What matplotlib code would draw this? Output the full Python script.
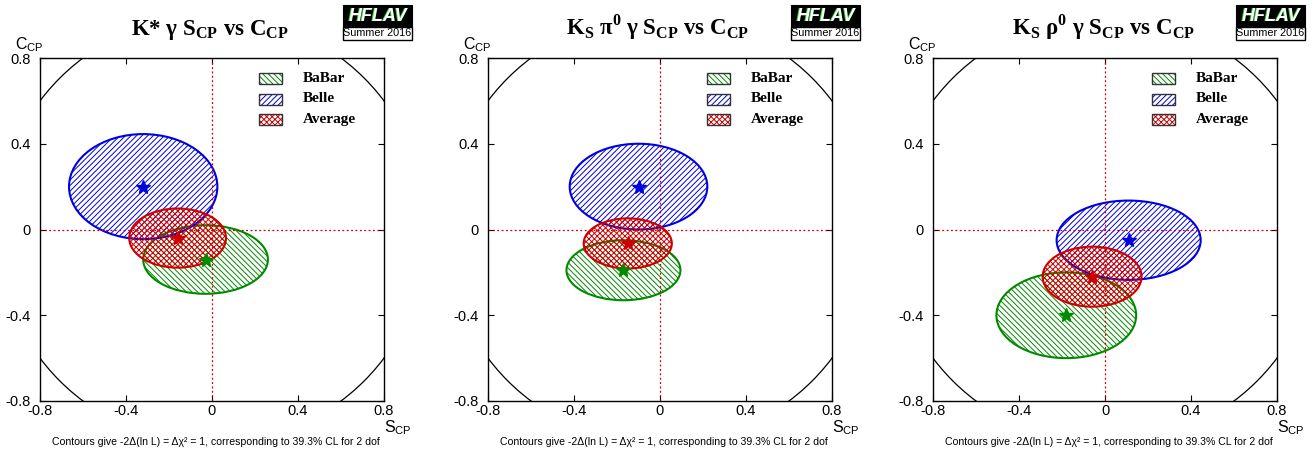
import matplotlib
matplotlib.use("Agg")
import matplotlib.pyplot as plt
from matplotlib.patches import Ellipse, Rectangle, Circle
import numpy as np

# ---------------- data ----------------
titles = [r"K* γ S$_\mathbf{CP}$ vs C$_\mathbf{CP}$",
          r"K$_\mathbf{S}$ π$^\mathbf{0}$ γ S$_\mathbf{CP}$ vs C$_\mathbf{CP}$",
          r"K$_\mathbf{S}$ ρ$^\mathbf{0}$ γ S$_\mathbf{CP}$ vs C$_\mathbf{CP}$"]
series_names = ["BaBar", "Belle", "Average"]

babar_S = [-0.03, -0.17, -0.18]
babar_S_err = [0.29, 0.265, 0.325]
babar_C = [-0.14, -0.19, -0.40]
babar_C_err = [0.16, 0.14, 0.20]

belle_S = [-0.32, -0.10, 0.11]
belle_S_err = [0.345, 0.32, 0.335]
belle_C = [0.20, 0.20, -0.05]
belle_C_err = [0.245, 0.20, 0.185]

avg_S = [-0.16, -0.15, -0.06]
avg_S_err = [0.225, 0.205, 0.23]
avg_C = [-0.04, -0.065, -0.22]
avg_C_err = [0.138, 0.117, 0.14]

ticks = [-0.8, -0.4, 0, 0.4, 0.8]
tick_labels = ["-0.8", "-0.4", "0", "0.4", "0.8"]
footnote = "Contours give -2Δ(ln L) = Δχ² = 1, corresponding to 39.3% CL for 2 dof"
logo_top = "HFLAV"
logo_bottom = "Summer 2016"

# ---------------- style ----------------
plt.rcParams['mathtext.fontset'] = 'custom'
plt.rcParams['mathtext.rm'] = 'Liberation Sans'
plt.rcParams['mathtext.bf'] = 'Liberation Serif:bold'
plt.rcParams['hatch.linewidth'] = 0.7

colors = {"BaBar": "#008a00", "Belle": "#0000e0", "Average": "#cc0000"}
hatches = {"BaBar": "\\" * 6, "Belle": "/" * 6, "Average": "x" * 6}

W, H = 1314, 451
fig = plt.figure(figsize=(W / 100, H / 100), dpi=100)

def fx(x):
    return x / W

def fy(y):
    return 1 - y / H

lefts = [40, 488, 933]
ax_w, ax_top, ax_bot = 344, 58, 401

data = {
    "BaBar": (babar_S, babar_S_err, babar_C, babar_C_err),
    "Belle": (belle_S, belle_S_err, belle_C, belle_C_err),
    "Average": (avg_S, avg_S_err, avg_C, avg_C_err),
}

for i, left in enumerate(lefts):
    ax = fig.add_axes([fx(left), fy(ax_bot), ax_w / W, (ax_bot - ax_top) / H])
    ax.set_xlim(-0.8, 0.8)
    ax.set_ylim(-0.8, 0.8)
    ax.set_xticks(ticks)
    ax.set_yticks(ticks)
    ax.set_xticklabels(tick_labels, fontfamily='Liberation Sans', fontsize=10.5)
    ax.set_yticklabels(tick_labels, fontfamily='Liberation Sans', fontsize=10.5)
    ax.tick_params(direction='in', length=4, width=0.8, top=True, right=True)
    ax.tick_params(axis='x', pad=2.5)
    ax.tick_params(axis='y', pad=7)
    for s in ax.spines.values():
        s.set_linewidth(1.0)

    # unit circle
    ax.add_patch(Circle((0, 0), 1.0, fill=False, edgecolor='black', lw=0.9))
    # dotted zero lines
    ax.axhline(0, color='#d00000', ls=(0, (1.5, 2)), lw=0.9)
    ax.axvline(0, color='#d00000', ls=(0, (1.5, 2)), lw=0.9)

    for name in ["BaBar", "Belle", "Average"]:
        S, Se, C, Ce = data[name]
        col = colors[name]
        ax.add_patch(Ellipse((S[i], C[i]), 2 * Se[i], 2 * Ce[i], facecolor='none',
                             edgecolor=col, hatch=hatches[name], lw=0))
        ax.add_patch(Ellipse((S[i], C[i]), 2 * Se[i], 2 * Ce[i], fill=False,
                             edgecolor=col, lw=1.5))
    for name in ["BaBar", "Belle", "Average"]:
        S, Se, C, Ce = data[name]
        ax.plot([S[i]], [C[i]], marker='*', color=colors[name], ms=10, mec=colors[name])

    # legend
    for k, name in enumerate(series_names):
        ytop = 73 + k * 20.5
        yb = 1 - (ytop + 11 - ax_top) / (ax_bot - ax_top)
        xl = (259 - 40) / ax_w
        r = Rectangle((xl, yb), 23 / ax_w, 11 / (ax_bot - ax_top), transform=ax.transAxes,
                      facecolor='none', edgecolor=colors[name], hatch=hatches[name], lw=0)
        ax.add_patch(r)
        ax.add_patch(Rectangle((xl, yb), 23 / ax_w, 11 / (ax_bot - ax_top), transform=ax.transAxes,
                               fill=False, edgecolor='#333333', lw=1.0))
        ax.text((303 - 40) / ax_w, yb + 5.5 / (ax_bot - ax_top), name, transform=ax.transAxes,
                fontfamily='Liberation Serif', fontweight='bold', fontsize=11, va='center', ha='left')

    # title
    fig.text(fx(left + 170), fy(35), titles[i], fontfamily='Liberation Serif', fontweight='bold',
             fontsize=16.5, ha='center', va='baseline')
    # axis labels
    fig.text(fx(left - 25), fy(49), r"C$_\mathrm{CP}$", fontfamily='Liberation Sans', fontsize=11.5,
             ha='left', va='baseline')
    fig.text(fx(left + ax_w), fy(432), r"S$_\mathrm{CP}$", fontfamily='Liberation Sans', fontsize=11.5,
             ha='left', va='baseline')
    # footnote
    fig.text(fx(left + 176), fy(445), footnote, fontfamily='Liberation Sans', fontsize=7.6,
             ha='center', va='baseline')

    # logo
    lx = left + 303
    fig.patches.append(Rectangle((fx(lx), fy(27)), 69 / W, 22 / H, transform=fig.transFigure,
                                 facecolor='black', edgecolor='black', lw=0.8))
    fig.patches.append(Rectangle((fx(lx), fy(40)), 69 / W, 13 / H, transform=fig.transFigure,
                                 facecolor='white', edgecolor='black', lw=1.0))
    fig.text(fx(lx + 35 - 1.2), fy(16.5), logo_top, fontfamily='Liberation Sans', fontweight='bold',
             fontstyle='italic', fontsize=13, color='#22cc22', ha='center', va='center')
    fig.text(fx(lx + 35), fy(16.5), logo_top, fontfamily='Liberation Sans', fontweight='bold',
             fontstyle='italic', fontsize=13, color='white', ha='center', va='center')
    fig.text(fx(lx + 34.5), fy(33.5), logo_bottom, fontfamily='Liberation Sans',
             fontsize=7.8, color='black', ha='center', va='center')

fig.savefig("out.png", dpi=100)
